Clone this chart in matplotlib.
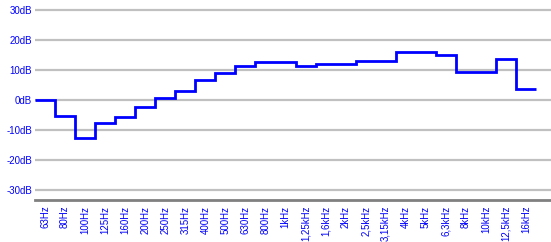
import numpy as np
import matplotlib
matplotlib.use("Agg")
import matplotlib.pyplot as plt

bands = ["63Hz", "80Hz", "100Hz", "125Hz", "160Hz", "200Hz", "250Hz", "315Hz",
         "400Hz", "500Hz", "630Hz", "800Hz", "1kHz", "1,25kHz", "1,6kHz", "2kHz",
         "2,5kHz", "3,15kHz", "4kHz", "5kHz", "6,3kHz", "8kHz", "10kHz", "12,5kHz", "16kHz"]
gain_db = [0.0, -5.3, -12.6, -7.6, -5.7, -2.3, 0.7, 2.9,
           6.7, 9.1, 11.3, 12.8, 12.8, 11.4, 12.1, 12.1,
           13.1, 13.1, 16.0, 16.0, 14.9, 9.3, 9.3, 13.8, 3.7]
y_ticks = [-30, -20, -10, 0, 10, 20, 30]
y_labels = ["%ddB" % v for v in y_ticks]

plt.rcParams['font.family'] = ['Liberation Sans', 'DejaVu Sans']

fig = plt.figure(figsize=(5.51, 2.42), dpi=100)
ax = fig.add_axes([35 / 551, 1 - 200 / 242, 516 / 551, 200 / 242])

n = len(bands)
edges = np.arange(n + 1) - 0.5
ax.stairs(gain_db, edges, baseline=None, color="#0000ff", linewidth=2, zorder=3)

ax.set_xlim(-0.5, 25.25)
ax.set_ylim(-33.333, 33.333)

for v in y_ticks:
    ax.axhline(v, color="#c0c0c0", linewidth=1.6, zorder=1)

ax.set_yticks(y_ticks)
ax.set_yticklabels(y_labels, color="#0000ff", fontsize=7)
ax.set_xticks(np.arange(n))
ax.set_xticklabels(bands, rotation=90, color="#0000ff", fontsize=7, va="top")
ax.tick_params(axis="both", length=0)
ax.tick_params(axis="y", pad=2)
ax.tick_params(axis="x", pad=4)

for s in ["top", "right", "left"]:
    ax.spines[s].set_visible(False)
ax.spines["bottom"].set_color("#808080")
ax.spines["bottom"].set_linewidth(2)

fig.savefig("out.png", dpi=100)
